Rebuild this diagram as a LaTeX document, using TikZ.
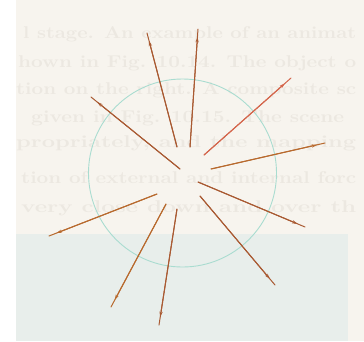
\documentclass[tikz,border=0pt]{standalone}
\usetikzlibrary{arrows.meta,calc}
\definecolor{paper}{HTML}{F7F4EE}
\definecolor{bluish}{HTML}{E8EEEB}
\definecolor{ghost}{HTML}{ECE8E1}
\definecolor{ringc}{HTML}{A9DCD0}
\definecolor{brownc}{HTML}{A95A32}
\definecolor{redc}{HTML}{D4664C}
\definecolor{orangec}{HTML}{B86A2E}
\newcommand{\bgline}[2]{\resizebox{#1pt}{\height}{#2}}
\tikzset{
  ghosttext/.style={anchor=base west, inner sep=0pt, text=ghost, font=\fontsize{17}{20}\selectfont\bfseries},
  ray/.style={line width=1pt, line cap=round},
  rayhead/.style={line width=1pt, -{Stealth[length=5.5pt,width=3.2pt]}},
  ring/.style={circle, draw=ringc, line width=0.9pt, minimum size=188pt, inner sep=0pt}
}
\begin{document}
\begin{tikzpicture}[x=1pt,y=-1pt]
\useasboundingbox (0,0) rectangle (364,341);
\fill[white] (0,0) rectangle (364,341);
\fill[paper] (16,0) rectangle (364,341);
\fill[bluish] (16,234) rectangle (348,341);
% faint show-through text
\begin{scope}
\clip (16,0) rectangle (358,234);
\node[ghosttext] (t1) at (23,38) {\bgline{333}{l stage. An example of an animat}};
\node[ghosttext] (t2) at (18,67) {\bgline{338}{hown in Fig. 10.14. The object o}};
\node[ghosttext] (t3) at (16,94) {\bgline{340}{tion on the right. A composite sc}};
\node[ghosttext] (t4) at (31,122) {\bgline{313}{given in Fig. 10.15. The scene}};
\node[ghosttext] (t5) at (16,147) {\bgline{340}{propriately, and the mapping}};
\node[ghosttext] (t6) at (21,183) {\bgline{335}{tion of external and internal forc}};
\node[ghosttext] (t7) at (21,212) {\bgline{335}{very close down and over th}};
\end{scope}
% ring
\node[ring] (c) at (182.5,173) {};
% ray end points
\coordinate (s1) at (177,147);  \coordinate (e1) at (147,33);
\coordinate (s2) at (190,147);  \coordinate (e2) at (198,29);
\coordinate (s3) at (204,155);  \coordinate (e3) at (291,78);
\coordinate (s4) at (180,169);  \coordinate (e4) at (91,97);
\coordinate (s5) at (211,169);  \coordinate (e5) at (325,143);
\coordinate (s6) at (198,182);  \coordinate (e6) at (305,227);
\coordinate (s7) at (157,194);  \coordinate (e7) at (49,236);
\coordinate (s8) at (166,204);  \coordinate (e8) at (111,307);
\coordinate (s9) at (177,209);  \coordinate (e9) at (159,325);
\coordinate (s10) at (200,196); \coordinate (e10) at (275,285);
\foreach \i/\col in {1/brownc,2/brownc,3/redc,4/brownc,5/orangec,6/brownc,7/orangec,8/orangec,9/brownc,10/brownc}{
  \draw[ray, draw=\col] (s\i) -- (e\i);
  \draw[rayhead, draw=\col, fill=\col] (s\i) -- ($(e\i)!8pt!(s\i)$);
}
\end{tikzpicture}
\end{document}
